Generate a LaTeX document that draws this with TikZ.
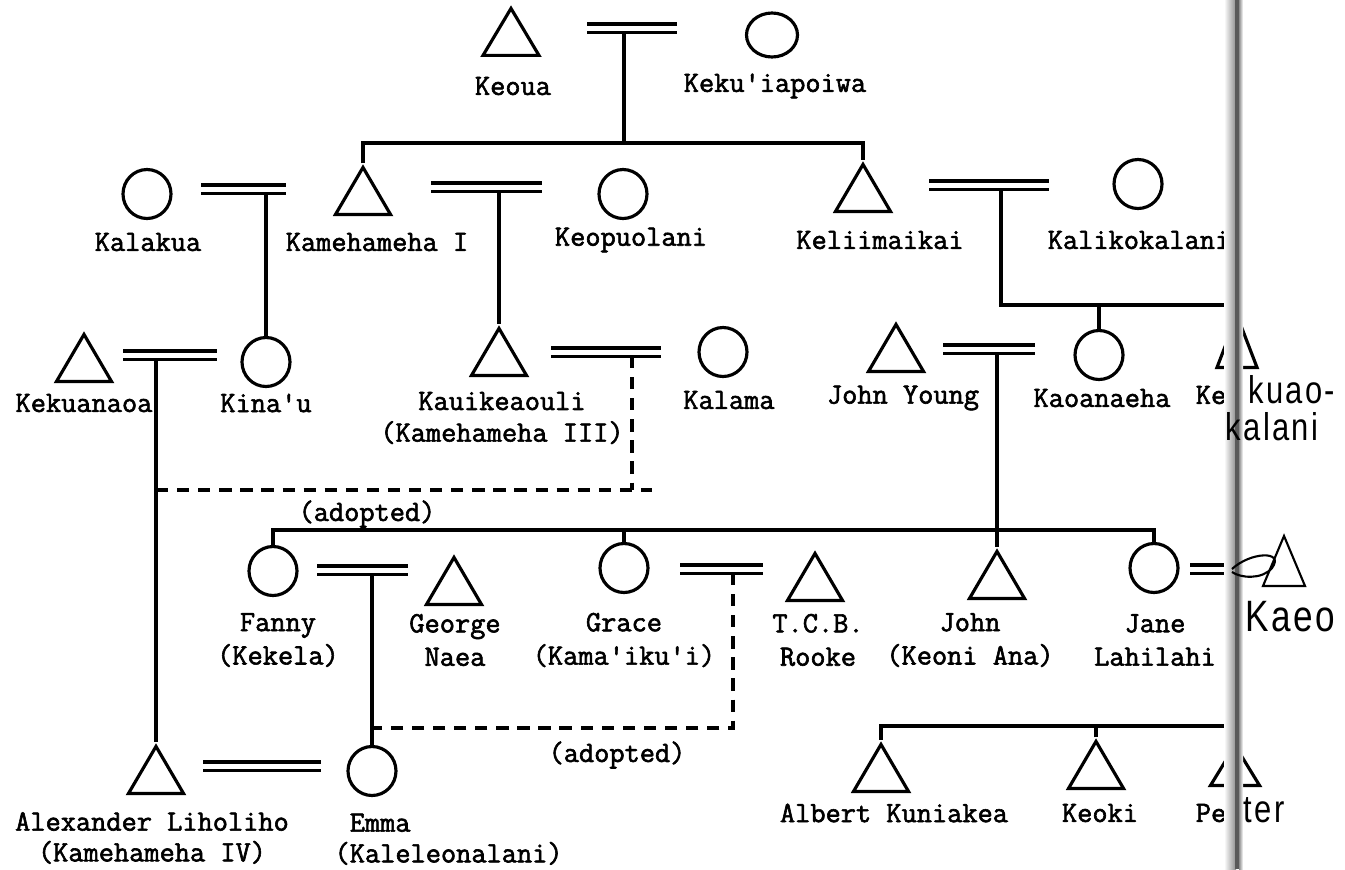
\documentclass[tikz,border=0pt]{standalone}
\usepackage{fontspec}
\setmonofont{Latin Modern Mono}[FakeBold=2]
\newfontfamily\handfont{Liberation Sans}[FakeStretch=0.8, LetterSpace=6]
\usetikzlibrary{shapes.geometric}
\newcommand\namefont{\ttfamily\fontsize{16.8}{19}\selectfont}
\newcommand\handtext{\handfont\fontsize{22}{24}\selectfont}

\begin{document}
\begin{tikzpicture}[x=0.02cm, y=-0.02cm, line width=1.8pt,
  male/.style={draw, isosceles triangle, shape border rotate=90, anchor=south,
    isosceles triangle stretches, minimum width=1.1cm, minimum height=0.94cm, inner sep=0},
  female/.style={draw, ellipse, minimum width=0.96cm, minimum height=0.98cm, inner sep=0},
  wed/.style={double, double distance=0.1cm},
  adopt/.style={dash pattern=on 7pt off 5pt},
  lbl/.style={font=\namefont, inner sep=0, align=center},
  scrawl/.style={font=\handtext, inner sep=0},
  ]
\useasboundingbox (0,0) rectangle (1345,869);

% first generation
\node[male, minimum width=1.12cm] (keoua) at (511,57) {};
\node[female, minimum width=1.02cm, minimum height=0.88cm] (kekuiapoiwa) at (772,35) {};
\node[lbl] (tkeoua) at (513,86) {Keoua};
\node[lbl] (tkekuiapoiwa) at (775,86) {Keku'iapoiwa};

\coordinate (m1a) at (587,28); \coordinate (m1b) at (677,28);
\coordinate (m1) at (624,32); \coordinate (s1) at (624,143);
\draw[wed] (m1a) -- (m1b);
\draw (m1) -- (s1);

% second generation
\node[female] (kalakua) at (147,194) {};
\node[male] (kamI) at (363,216) {};
\node[female] (keopuolani) at (623,194) {};
\node[male] (keliimaikai) at (863,213) {};
\node[female] (kalikokalani) at (1138,184) {};
\node[lbl] (tkalakua) at (148,242) {Kalakua};
\node[lbl] (tkamI) at (377,242) {Kamehameha I};
\node[lbl] (tkeopuolani) at (631,240) {Keopuolani};
\node[lbl] (tkeliimaikai) at (880,240) {Keliimaikai};
\node[lbl] (tkalikokalani) at (1139,240) {Kalikokalani};

\draw (kamI.north) |- (s1) -| (keliimaikai.north);

\coordinate (m2a) at (201,189); \coordinate (m2b) at (286,189);
\coordinate (m2) at (266,193);
\coordinate (m3a) at (431,187); \coordinate (m3b) at (542,187);
\coordinate (m3) at (499,191);
\coordinate (m4a) at (929,185); \coordinate (m4b) at (1049,185);
\coordinate (m4) at (1001,189); \coordinate (s4) at (1237,305);
\draw[wed] (m2a) -- (m2b);
\draw[wed] (m3a) -- (m3b);
\draw[wed] (m4a) -- (m4b);

% third generation
\node[male] (kekuanaoa) at (84,383) {};
\node[female] (kinau) at (266,362) {};
\node[male] (kauikeaouli) at (499,377) {};
\node[female] (kalama) at (723,352) {};
\node[male] (jyoung) at (896,373) {};
\node[female] (kaoanaeha) at (1099,355) {};
\node[male, minimum width=0.8cm, minimum height=1.04cm] (kekuaokalani) at (1237,369) {};
\node[lbl] (tkekuanaoa) at (84,403) {Kekuanaoa};
\node[lbl] (tkinau) at (266,403) {Kina'u};
\node[lbl] (tkauikeaouli) at (502,418) {Kauikeaouli\\[-1pt](Kamehameha III)};
\node[lbl] (tkalama) at (729,400) {Kalama};
\node[lbl] (tjyoung) at (903,398) {John Young};
\node[lbl] (tkaoanaeha) at (1102,398) {Kaoanaeha};
\node[lbl] (tkekuaokalani) at (1211,395) {Ke};

\draw (m2) -- (kinau.north);
\draw (m3) -- (kauikeaouli.north);
\draw (m4) |- (s4) -- (kekuaokalani.north);
\draw (kaoanaeha.north) -- (kaoanaeha.north |- s4);

\coordinate (m5a) at (123,355); \coordinate (m5b) at (217,355);
\coordinate (m5) at (156,359);
\coordinate (m6a) at (551,352); \coordinate (m6b) at (661,352);
\coordinate (m6) at (632,356); \coordinate (d6) at (632,490);
\coordinate (d6l) at (156,490); \coordinate (d6r) at (652,490);
\coordinate (m7a) at (943,349); \coordinate (m7b) at (1035,349);
\coordinate (m7) at (997,353);
\draw[wed] (m5a) -- (m5b);
\draw[wed] (m6a) -- (m6b);
\draw[wed] (m7a) -- (m7b);
\draw[adopt] (m6) -- (d6);
\draw[adopt] (d6l) -- (d6r);
\node[lbl] (tadopt1) at (367,514) {(adopted)};

% fourth generation
\node[female] (fanny) at (273,571) {};
\node[male] (george) at (454,606) {};
\node[female] (grace) at (624,568) {};
\node[male] (rooke) at (815,602) {};
\node[male] (john) at (997,600) {};
\node[female] (jane) at (1154,568) {};
\node[lbl] (tfanny) at (278,640) {Fanny\\(Kekela)};
\node[lbl] (tgeorge) at (455,640) {George\\Naea};
\node[lbl] (tgrace) at (624,640) {Grace\\(Kama'iku'i)};
\node[lbl] (trooke) at (818,640) {T.C.B.\\Rooke};
\node[lbl] (tjohn) at (970,640) {John\\(Keoni Ana)};
\node[lbl] (tjane) at (1155,640) {Jane\\Lahilahi};

\coordinate (s3) at (273,530);
\draw (fanny.north) -- (s3) -| (jane.north);
\draw (grace.north) -- (grace.north |- s3);
\draw (m7) -- (john.north);

\coordinate (m8a) at (317,570); \coordinate (m8b) at (408,570);
\coordinate (m8) at (372,574);
\coordinate (m9a) at (680,569); \coordinate (m9b) at (763,569);
\coordinate (m9) at (733,573); \coordinate (d9) at (733,728);
\coordinate (d9l) at (372,728);
\coordinate (m10a) at (1190,569); \coordinate (m10b) at (1232,569);
\coordinate (m10) at (1237,573); \coordinate (s5) at (1237,726);
\draw[wed] (m8a) -- (m8b);
\draw[wed] (m9a) -- (m9b);
\draw[wed] (m10a) -- (m10b);
\draw[adopt] (m9) -- (d9) -- (d9l);
\node[lbl] (tadopt2) at (617,755) {(adopted)};

% fifth generation
\node[male] (alexander) at (156,795) {};
\node[female] (emma) at (372,771) {};
\node[male] (albert) at (881,793) {};
\node[male] (keoki) at (1096,790) {};
\node[male, minimum width=0.98cm, minimum height=0.8cm] (peter) at (1235,787) {};
\node[lbl] (talexander) at (152,838) {Alexander Liholiho\\[-1.5pt](Kamehameha IV)};
\node[lbl, anchor=west, align=left] (temma) at (333,838) {\phantom{(}Emma\\[-1.5pt](Kaleleonalani)};
\node[lbl] (talbert) at (894,813) {Albert Kuniakea};
\node[lbl] (tkeoki) at (1100,813) {Keoki};
\node[lbl] (tpeter) at (1211,813) {Pe};

\coordinate (m11a) at (203,766); \coordinate (m11b) at (321,766);
\draw[wed] (m11a) -- (m11b);
\draw (m5) -- (alexander.north);
\draw (m8) -- (emma.north);
\draw (m10) -- (s5) -| (albert.north);
\draw (keoki.north) -- (keoki.north |- s5);
\draw (s5) -- (peter.north);

% fold of the page
\shade[left color=white, right color=black!45, draw=none] (1224,0) rectangle (1236,869);
\fill[black!65] (1235,0) rectangle (1240,869);
\shade[left color=black!45, right color=white, draw=none] (1239,0) rectangle (1243,869);

% pencil notes
\node[draw, isosceles triangle, shape border rotate=90, isosceles triangle stretches, anchor=south,
  minimum width=0.84cm, minimum height=1.0cm, inner sep=0, line width=1.2pt] (kaeo) at (1284,587) {};
\draw[line width=1.2pt] (m10b) .. controls (1250,552) and (1285,550) .. (1272,568)
  .. controls (1262,580) and (1240,578) .. (1232,572);
\node[scrawl] (tkuao) at (1292,390) {kuao-};
\node[scrawl] (tkalani) at (1272,427) {kalani};
\node[scrawl, font=\handfont\fontsize{25}{27}\selectfont] (tkaeo) at (1290,617) {Kaeo};
\node[scrawl] (tter) at (1264,810) {ter};

\end{tikzpicture}
\end{document}
